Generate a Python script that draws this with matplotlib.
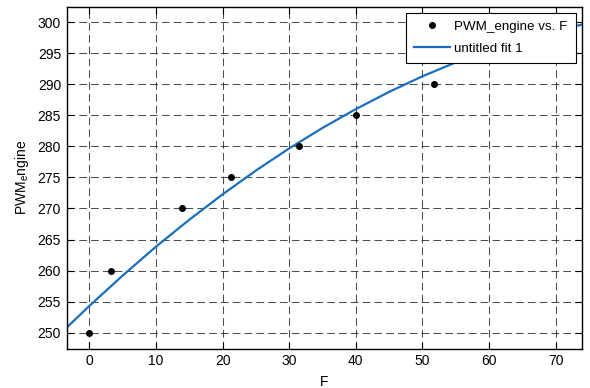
import matplotlib
matplotlib.use('Agg')
import matplotlib.pyplot as plt
import numpy as np

plt.rcParams['font.family'] = ['Liberation Sans', 'DejaVu Sans']
plt.rcParams['lines.scale_dashes'] = False

# measured data points
F = [0, 3.3, 13.9, 21.3, 31.4, 40.0, 51.7]
PWM_engine = [250, 260, 270, 275, 280, 285, 290]

# fitted curve
fitF = [-3.5, 0, 5, 10, 15, 20, 25, 30, 35, 40, 45, 50, 55, 60, 65, 70, 73.9]
fitPWM = [250.72, 254.3, 259.19, 263.85, 268.18, 272.27, 276.10, 279.67, 282.97,
          286.0, 288.77, 291.28, 293.52, 295.49, 297.2, 298.65, 299.59]

xticks = [0, 10, 20, 30, 40, 50, 60, 70]
yticks = [250, 255, 260, 265, 270, 275, 280, 285, 290, 295, 300]

fig = plt.figure(figsize=(5.9, 3.88), dpi=100)
ax = fig.add_axes([0.113, 0.101, 0.873, 0.882])

ax.plot(F, PWM_engine, 'o', color='black', markersize=4, label='PWM_engine vs. F', zorder=3)
ax.plot(fitF, fitPWM, '-', color='#1a6fbd', linewidth=1.6, label='untitled fit 1', zorder=2)

ax.set_xlim(-3.4, 73.9)
ax.set_ylim(247.4, 302.5)
ax.set_xticks(xticks)
ax.set_yticks(yticks)
ax.tick_params(direction='in', length=5, width=0.8, top=True, right=True,
               labelsize=10, colors='black', pad=4)
ax.grid(True, color='#222222', linestyle=(0, (5.5, 3)), linewidth=0.75, alpha=0.8)
for s in ax.spines.values():
    s.set_linewidth(1.0)

ax.set_xlabel('F', fontsize=10, labelpad=5)
ax.set_ylabel(r'PWM$_\mathregular{e}$ngine', fontsize=10, labelpad=5)

leg = ax.legend(loc='upper right', fontsize=9.6, fancybox=False, framealpha=1,
                edgecolor='black', borderaxespad=0.45, handlelength=2.7,
                handletextpad=0.3, borderpad=0.6, labelspacing=0.7)
leg.get_frame().set_linewidth(0.8)

fig.savefig('out.png', dpi=100)
